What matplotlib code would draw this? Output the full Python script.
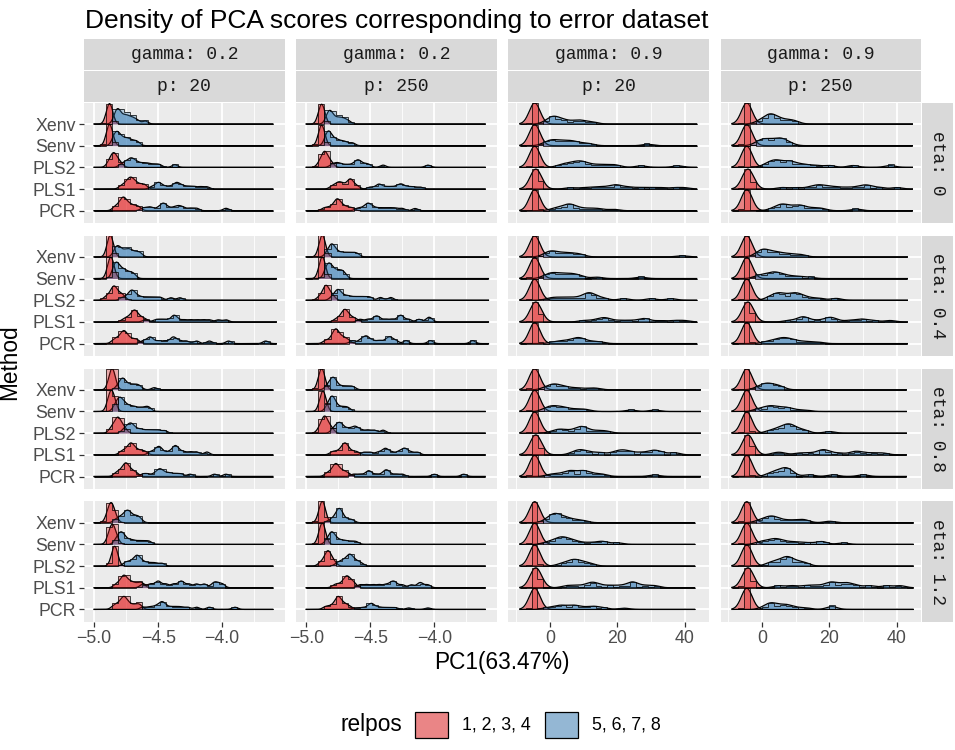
import math

import numpy as np
import matplotlib
matplotlib.use("Agg")
import matplotlib.pyplot as plt
from matplotlib.patches import Rectangle

plt.rcParams["font.family"] = ["Liberation Sans", "DejaVu Sans"]

# ---------------------------------------------------------------- data
METHODS = ["PCR", "PLS1", "PLS2", "Senv", "Xenv"]          # bottom -> top
GAMMA = ["0.2", "0.2", "0.9", "0.9"]
P = ["20", "250", "20", "250"]
ETA = ["0", "0.4", "0.8", "1.2"]
GROUPS = ["1, 2, 3, 4", "5, 6, 7, 8"]
X_TICKS = [[-5.0, -4.5, -4.0], [-5.0, -4.5, -4.0], [0, 20, 40], [0, 20, 40]]
X_TICKLABELS = [["\u22125.0", "\u22124.5", "\u22124.0"]] * 2 + [["0", "20", "40"]] * 2
X_MINOR = [[-4.75, -4.25, -3.75]] * 2 + [[-10, 10, 30]] * 2
X_LIM = [(-5.078, -3.513), (-5.078, -3.513), (-12.3, 47.1), (-12.3, 47.1)]
X_LO = [-5.0, -5.0, -8.9, -8.9]                           # panel data min per column
X_HI = [[-3.605, -3.603, 43.5, 44.6],                      # panel data max, rows = eta
        [-3.577, -3.577, 43.5, 43.1],
        [-3.605, -3.603, 44.6, 42.8],
        [-3.605, -3.603, 42.9, 44.8]]
BW = [0.022, 0.022, 1.6, 1.6]                              # density bandwidth per column
BW_HIST = [0.012, 0.012, 0.5, 0.5]

# method -> (PC1 scores relpos 1-4, PC1 scores relpos 5-8, ridge peak 1-4, ridge peak 5-8)
G02_P20_E0 = {
    "Xenv": ([-4.90, -4.89, -4.885, -4.88, -4.875, -4.87, -4.86],
             [-4.84, -4.83, -4.82, -4.815, -4.81, -4.80, -4.78, -4.76, -4.75, -4.73, -4.71, -4.69, -4.66, -4.60], 0.94, 0.71),
    "Senv": ([-4.90, -4.89, -4.885, -4.88, -4.875, -4.87, -4.86],
             [-4.85, -4.84, -4.83, -4.82, -4.81, -4.80, -4.78, -4.76, -4.74, -4.72, -4.69, -4.66], 0.98, 0.66),
    "PLS2": ([-4.89, -4.87, -4.86, -4.85, -4.845, -4.84, -4.83, -4.81, -4.79],
             [-4.79, -4.76, -4.74, -4.72, -4.71, -4.70, -4.68, -4.66, -4.63, -4.60, -4.57, -4.53, -4.49, -4.37], 0.68, 0.44),
    "PLS1": ([-4.79, -4.76, -4.74, -4.73, -4.72, -4.71, -4.70, -4.69, -4.67, -4.65, -4.62, -4.60],
             [-4.55, -4.51, -4.50, -4.49, -4.46, -4.42, -4.38, -4.36, -4.35, -4.33, -4.30, -4.26, -4.22, -4.17, -4.12], 0.55, 0.31),
    "PCR": ([-4.84, -4.81, -4.79, -4.78, -4.77, -4.765, -4.75, -4.73, -4.71, -4.68, -4.65],
            [-4.62, -4.58, -4.55, -4.50, -4.47, -4.46, -4.45, -4.42, -4.38, -4.35, -4.33, -4.30, -4.25, -4.20, -3.97], 0.63, 0.35),
}
G02_P20_E04 = {
    "Xenv": ([-4.89, -4.885, -4.88, -4.875, -4.87, -4.865, -4.855],
             [-4.84, -4.83, -4.82, -4.81, -4.80, -4.78, -4.76, -4.74, -4.73, -4.71, -4.69, -4.66, -4.64], 0.99, 0.52),
    "Senv": ([-4.89, -4.88, -4.875, -4.87, -4.865, -4.86, -4.85],
             [-4.85, -4.84, -4.83, -4.82, -4.81, -4.79, -4.77, -4.75, -4.72, -4.69], 0.99, 0.76),
    "PLS2": ([-4.91, -4.88, -4.86, -4.85, -4.845, -4.84, -4.83, -4.81, -4.79, -4.77],
             [-4.78, -4.74, -4.72, -4.71, -4.70, -4.69, -4.67, -4.64, -4.60, -4.56, -4.52, -4.48, -4.40, -4.33], 0.66, 0.47),
    "PLS1": ([-4.77, -4.74, -4.72, -4.70, -4.69, -4.685, -4.68, -4.67, -4.65, -4.63, -4.60],
             [-4.60, -4.52, -4.48, -4.44, -4.39, -4.38, -4.37, -4.35, -4.30, -4.25, -4.20, -4.15, -4.10, -4.03, -3.97], 0.55, 0.31),
    "PCR": ([-4.85, -4.82, -4.80, -4.78, -4.77, -4.765, -4.76, -4.74, -4.72, -4.69, -4.66],
            [-4.62, -4.58, -4.56, -4.55, -4.50, -4.45, -4.40, -4.38, -4.37, -4.33, -4.28, -4.20, -4.10, -3.95, -3.66], 0.60, 0.31),
}
G02_P20_E08 = {
    "Xenv": ([-4.88, -4.87, -4.865, -4.86, -4.855, -4.85, -4.84],
             [-4.82, -4.80, -4.79, -4.78, -4.775, -4.77, -4.76, -4.74, -4.72, -4.70, -4.68, -4.66, -4.64, -4.53], 0.98, 0.54),
    "Senv": ([-4.89, -4.88, -4.87, -4.865, -4.86, -4.85, -4.84],
             [-4.84, -4.82, -4.81, -4.80, -4.79, -4.78, -4.76, -4.74, -4.71, -4.68, -4.64, -4.60, -4.57], 0.98, 0.66),
    "PLS2": ([-4.87, -4.85, -4.83, -4.82, -4.815, -4.81, -4.80, -4.78, -4.76],
             [-4.77, -4.75, -4.73, -4.72, -4.71, -4.70, -4.68, -4.65, -4.62, -4.58, -4.54, -4.50, -4.45], 0.74, 0.47),
    "PLS1": ([-4.79, -4.76, -4.74, -4.72, -4.715, -4.71, -4.70, -4.68, -4.66, -4.63, -4.60],
             [-4.56, -4.52, -4.50, -4.49, -4.47, -4.42, -4.38, -4.37, -4.36, -4.34, -4.30, -4.25, -4.20, -4.12], 0.55, 0.43),
    "PCR": ([-4.83, -4.80, -4.78, -4.76, -4.755, -4.75, -4.74, -4.72, -4.70, -4.67],
            [-4.62, -4.58, -4.53, -4.50, -4.49, -4.48, -4.46, -4.43, -4.40, -4.36, -4.32, -4.25, -4.06, -3.97], 0.63, 0.36),
}
G02_P20_E12 = {
    "Xenv": ([-4.90, -4.885, -4.875, -4.87, -4.865, -4.86, -4.85, -4.83],
             [-4.83, -4.80, -4.78, -4.76, -4.75, -4.74, -4.73, -4.72, -4.70, -4.68, -4.66, -4.64], 0.93, 0.58),
    "Senv": ([-4.89, -4.875, -4.865, -4.86, -4.855, -4.85, -4.84, -4.82],
             [-4.83, -4.81, -4.80, -4.79, -4.78, -4.77, -4.75, -4.72, -4.69, -4.65, -4.61, -4.57], 0.93, 0.58),
    "PLS2": ([-4.86, -4.85, -4.845, -4.84, -4.84, -4.835, -4.83, -4.82],
             [-4.76, -4.73, -4.70, -4.68, -4.67, -4.66, -4.65, -4.63, -4.60, -4.56, -4.52, -4.47], 0.91, 0.50),
    "PLS1": ([-4.83, -4.80, -4.78, -4.77, -4.765, -4.76, -4.74, -4.72, -4.70, -4.67, -4.64, -4.62],
             [-4.62, -4.56, -4.51, -4.49, -4.44, -4.38, -4.33, -4.31, -4.26, -4.20, -4.14, -4.07, -4.04, -4.00], 0.58, 0.31),
    "PCR": ([-4.85, -4.82, -4.80, -4.78, -4.77, -4.765, -4.76, -4.74, -4.72, -4.69, -4.66, -4.64],
            [-4.62, -4.57, -4.53, -4.50, -4.48, -4.47, -4.46, -4.44, -4.40, -4.36, -4.32, -4.27, -4.20, -4.10, -3.90], 0.60, 0.36),
}
G02_P250_E0 = {
    "Xenv": ([-4.90, -4.89, -4.885, -4.88, -4.875, -4.87, -4.86],
             [-4.84, -4.83, -4.82, -4.815, -4.81, -4.80, -4.78, -4.76, -4.74, -4.72, -4.70, -4.67], 0.91, 0.63),
    "Senv": ([-4.90, -4.89, -4.885, -4.88, -4.875, -4.87, -4.86],
             [-4.85, -4.84, -4.83, -4.825, -4.82, -4.81, -4.79, -4.77, -4.75, -4.72, -4.69, -4.64], 0.94, 0.68),
    "PLS2": ([-4.90, -4.88, -4.865, -4.86, -4.855, -4.85, -4.84, -4.82, -4.80],
             [-4.80, -4.77, -4.75, -4.72, -4.68, -4.64, -4.61, -4.60, -4.59, -4.57, -4.54, -4.51, -4.40, -4.05], 0.74, 0.35),
    "PLS1": ([-4.80, -4.77, -4.75, -4.74, -4.72, -4.70, -4.67, -4.66, -4.655, -4.65, -4.63, -4.60],
             [-4.50, -4.45, -4.43, -4.42, -4.38, -4.34, -4.30, -4.27, -4.26, -4.24, -4.20, -4.16, -4.11], 0.47, 0.24),
    "PCR": ([-4.86, -4.82, -4.79, -4.77, -4.76, -4.755, -4.75, -4.73, -4.71, -4.68, -4.64],
            [-4.60, -4.56, -4.53, -4.52, -4.51, -4.49, -4.46, -4.42, -4.38, -4.34, -4.30, -4.25, -4.15], 0.55, 0.35),
}
G02_P250_E04 = {
    "Xenv": ([-4.895, -4.885, -4.88, -4.875, -4.87, -4.865, -4.855],
             [-4.84, -4.82, -4.81, -4.80, -4.795, -4.79, -4.77, -4.75, -4.72, -4.69, -4.66, -4.63, -4.60], 0.99, 0.60),
    "Senv": ([-4.895, -4.885, -4.88, -4.875, -4.87, -4.865, -4.855],
             [-4.85, -4.84, -4.83, -4.82, -4.81, -4.80, -4.78, -4.76, -4.74, -4.72, -4.70], 0.99, 0.72),
    "PLS2": ([-4.90, -4.87, -4.855, -4.85, -4.845, -4.84, -4.83, -4.81, -4.79],
             [-4.80, -4.77, -4.76, -4.75, -4.74, -4.72, -4.69, -4.66, -4.62, -4.58, -4.54, -4.50, -4.42, -4.34], 0.69, 0.50),
    "PLS1": ([-4.77, -4.74, -4.72, -4.71, -4.70, -4.695, -4.69, -4.68, -4.66, -4.64, -4.61],
             [-4.58, -4.52, -4.47, -4.45, -4.43, -4.38, -4.33, -4.28, -4.26, -4.25, -4.20, -4.12, -4.05, -4.03], 0.58, 0.31),
    "PCR": ([-4.85, -4.81, -4.79, -4.775, -4.77, -4.765, -4.76, -4.74, -4.72, -4.70, -4.67],
            [-4.64, -4.58, -4.55, -4.53, -4.52, -4.48, -4.43, -4.38, -4.35, -4.34, -4.30, -4.22, -4.03, -3.70], 0.68, 0.36),
}
G02_P250_E08 = {
    "Xenv": ([-4.90, -4.89, -4.885, -4.88, -4.875, -4.87, -4.86],
             [-4.84, -4.82, -4.81, -4.80, -4.79, -4.785, -4.78, -4.77, -4.75, -4.72, -4.69, -4.66, -4.63], 0.98, 0.58),
    "Senv": ([-4.89, -4.88, -4.875, -4.87, -4.865, -4.86, -4.85],
             [-4.84, -4.82, -4.81, -4.80, -4.795, -4.79, -4.78, -4.76, -4.73, -4.70, -4.67], 0.93, 0.71),
    "PLS2": ([-4.90, -4.88, -4.865, -4.86, -4.855, -4.85, -4.84, -4.82, -4.80],
             [-4.79, -4.77, -4.75, -4.74, -4.73, -4.71, -4.68, -4.65, -4.62, -4.61, -4.57, -4.52, -4.47, -4.40], 0.79, 0.50),
    "PLS1": ([-4.80, -4.77, -4.74, -4.72, -4.71, -4.70, -4.695, -4.69, -4.68, -4.66, -4.63, -4.60],
             [-4.55, -4.50, -4.44, -4.40, -4.38, -4.37, -4.33, -4.28, -4.25, -4.23, -4.22, -4.18, -4.13], 0.55, 0.31),
    "PCR": ([-4.84, -4.81, -4.79, -4.775, -4.77, -4.765, -4.76, -4.74, -4.72, -4.70, -4.67],
            [-4.63, -4.58, -4.53, -4.51, -4.50, -4.45, -4.40, -4.38, -4.37, -4.35, -4.30, -4.25, -4.00, -3.77], 0.60, 0.31),
}
G02_P250_E12 = {
    "Xenv": ([-4.90, -4.885, -4.88, -4.875, -4.87, -4.865, -4.855],
             [-4.82, -4.79, -4.77, -4.76, -4.75, -4.745, -4.74, -4.735, -4.73, -4.72, -4.70, -4.67, -4.64], 0.98, 0.66),
    "Senv": ([-4.90, -4.885, -4.88, -4.875, -4.87, -4.865, -4.855],
             [-4.84, -4.82, -4.81, -4.80, -4.795, -4.79, -4.77, -4.75, -4.72, -4.69, -4.65, -4.61], 0.98, 0.58),
    "PLS2": ([-4.89, -4.86, -4.845, -4.835, -4.83, -4.825, -4.82, -4.80, -4.78],
             [-4.76, -4.73, -4.71, -4.69, -4.675, -4.665, -4.66, -4.65, -4.64, -4.62, -4.60, -4.57], 0.71, 0.55),
    "PLS1": ([-4.78, -4.75, -4.72, -4.70, -4.69, -4.685, -4.68, -4.67, -4.65, -4.64, -4.62],
             [-4.58, -4.53, -4.48, -4.43, -4.38, -4.34, -4.32, -4.30, -4.25, -4.18, -4.12, -4.10, -4.05], 0.55, 0.31),
    "PCR": ([-4.85, -4.81, -4.78, -4.76, -4.755, -4.75, -4.745, -4.73, -4.71, -4.69, -4.66],
            [-4.62, -4.57, -4.53, -4.50, -4.495, -4.49, -4.48, -4.45, -4.42, -4.38, -4.34, -4.30, -4.20, -4.05], 0.60, 0.28),
}

RED_G09 = [-4.8, -4.7, -4.6, -4.5, -4.4, -4.3, -4.2]
RED_G09_PLS1 = [-4.8, -4.7, -4.6, -4.5, -4.4, -4.3, -3.5, -3.3, -3.1]

G09_P20_E0 = {
    "Xenv": (RED_G09, [-1, 0, 0.5, 1, 1.5, 2, 3, 4, 5, 7, 8.5, 9, 11, 13], 0.97, 0.36),
    "Senv": (RED_G09, [-1.5, -0.5, 0.5, 1, 2, 3, 4, 5, 6, 7, 8, 10, 12, 29], 0.97, 0.28),
    "PLS2": (RED_G09, [3, 4.5, 6, 7, 8, 9, 9.5, 10.5, 12, 14, 16, 18, 20, 27, 38], 0.97, 0.30),
    "PLS1": (RED_G09_PLS1, [6, 10, 13, 15, 17, 19, 19.5, 20, 22, 24, 27, 30, 33, 37, 40], 0.92, 0.20),
    "PCR": (RED_G09, [1, 2.5, 4, 5, 5.5, 6, 6.5, 7.5, 9, 11, 13, 15, 19], 0.97, 0.31),
}
G09_P20_E04 = {
    "Xenv": (RED_G09, [-1.5, -0.5, 0, 0.5, 1, 2, 3, 4, 5, 6, 7, 8.5, 9.5, 39], 0.97, 0.28),
    "Senv": (RED_G09, [-1.5, -0.5, 0.5, 1, 2, 3, 4, 5, 6, 7, 8, 9.5, 14, 27], 0.97, 0.28),
    "PLS2": (RED_G09, [0, 2, 4, 6, 8, 10, 11, 11.5, 12, 12.5, 14, 16, 22, 30, 36], 0.97, 0.35),
    "PLS1": (RED_G09_PLS1, [10, 13, 15, 16, 16.5, 18, 21, 24, 27, 28, 29, 33, 37, 40], 0.92, 0.20),
    "PCR": (RED_G09, [1, 3, 4.5, 6, 7, 8, 8.5, 9, 9.5, 11, 13, 15], 0.97, 0.28),
}
G09_P20_E08 = {
    "Xenv": (RED_G09, [-1.5, -0.5, 0.5, 1, 1.5, 2, 3, 4, 5, 7, 9, 12, 14], 0.97, 0.27),
    "Senv": (RED_G09, [-1.5, -0.5, 0.5, 1, 2, 3, 4, 5, 7, 9, 11, 24, 31], 0.97, 0.27),
    "PLS2": (RED_G09, [1, 2.5, 3.5, 5, 7, 8.5, 9, 9.5, 10, 11, 13, 15, 17], 0.97, 0.31),
    "PLS1": (RED_G09_PLS1, [7, 9, 9.5, 12, 15, 19, 21, 22, 24, 27, 30, 31, 33, 37], 0.92, 0.24),
    "PCR": (RED_G09, [0, 2, 4, 5.5, 6, 6.5, 8, 9.5, 10, 10.5, 12, 14, 16, 31], 0.97, 0.28),
}
G09_P20_E12 = {
    "Xenv": (RED_G09, [-1, 0, 1, 1.5, 1.5, 2, 3, 4, 5, 6, 8, 10], 0.97, 0.43),
    "Senv": (RED_G09, [-1, 1, 2, 3, 3.5, 4, 5, 6, 7, 9, 12, 15, 16, 20], 0.97, 0.35),
    "PLS2": (RED_G09, [3, 4.5, 5.5, 6.5, 7, 7.5, 8, 9, 10, 11, 12.5], 0.97, 0.31),
    "PLS1": (RED_G09_PLS1, [5, 8, 11, 12.5, 13, 15, 18, 21, 24, 24.5, 25, 28, 31], 0.92, 0.27),
    "PCR": (RED_G09, [-1, 1, 2.5, 3.5, 4, 6, 7, 7.5, 9, 11, 13, 13.5, 16, 22], 0.97, 0.20),
}
G09_P250_E0 = {
    "Xenv": (RED_G09, [-1, 0.5, 1.5, 2, 2.5, 3, 3.5, 4.5, 5.5, 7, 8.5, 10], 0.97, 0.47),
    "Senv": (RED_G09, [-1.5, -0.5, 0.5, 1, 2, 3, 4, 5, 5.5, 6, 7, 8.5], 0.97, 0.36),
    "PLS2": (RED_G09, [1, 2.5, 3.5, 4, 5, 6, 7.5, 8.5, 9, 11, 13, 16, 20, 27, 38], 0.97, 0.35),
    "PLS1": (RED_G09_PLS1, [6, 10, 14, 16, 17, 18, 20, 22, 25, 28, 30, 31, 32, 35, 40], 0.92, 0.20),
    "PCR": (RED_G09, [3, 5, 5.5, 6, 7, 8, 9.5, 10.5, 11.5, 12, 14, 16, 18, 28], 0.97, 0.31),
}
G09_P250_E04 = {
    "Xenv": (RED_G09, [-1.5, -0.5, 0, 0.5, 1, 2, 3, 4, 5, 6.5, 8, 10, 12], 0.97, 0.36),
    "Senv": (RED_G09, [-1.5, -0.5, 1, 2, 3, 3.5, 4, 5, 6, 7, 9, 11, 14], 0.97, 0.31),
    "PLS2": (RED_G09, [2, 3.5, 4.5, 5, 6, 7, 8.5, 9.5, 10, 11, 12, 14, 17, 22], 0.97, 0.35),
    "PLS1": (RED_G09_PLS1, [8, 11, 12, 12.5, 13, 16, 19, 20, 20.5, 22, 26, 29, 30, 33, 38], 0.92, 0.24),
    "PCR": (RED_G09, [1, 3, 4, 5, 6, 6.5, 7, 8, 9, 10, 12, 14, 17], 0.97, 0.28),
}
G09_P250_E08 = {
    "Xenv": (RED_G09, [-1.5, -0.5, 0.5, 1, 1.5, 2, 2.5, 3.5, 4.5, 5, 6], 0.97, 0.31),
    "Senv": (RED_G09, [-1.5, -0.5, 1, 2, 2.5, 3, 4, 5, 6.5, 7, 8, 10, 13], 0.97, 0.27),
    "PLS2": (RED_G09, [2, 4, 5, 6, 7, 7.5, 8, 8.5, 9, 10, 11.5, 13, 20], 0.97, 0.43),
    "PLS1": (RED_G09_PLS1, [4, 6, 11, 14, 17, 18, 18.5, 20, 23, 27, 28, 30, 33, 36], 0.92, 0.24),
    "PCR": (RED_G09, [2, 3.5, 4.5, 5.5, 6.5, 7, 7.5, 8, 9, 14, 21, 30], 0.97, 0.41),
}
G09_P250_E12 = {
    "Xenv": (RED_G09, [-1, 0.5, 1.5, 2.5, 3, 3.5, 4.5, 6, 8, 10, 12, 13, 20], 0.97, 0.31),
    "Senv": (RED_G09, [-1, 0.5, 2, 3, 4, 4.5, 5.5, 7, 9, 11, 14, 17.5, 18, 24], 0.97, 0.27),
    "PLS2": (RED_G09, [2, 3.5, 5, 6, 7, 7.5, 8, 8.5, 10, 11.5, 13], 0.97, 0.44),
    "PLS1": (RED_G09_PLS1, [5, 9, 13, 16, 19, 20.5, 21, 23, 25, 25.5, 28, 32, 37, 41], 0.92, 0.27),
    "PCR": (RED_G09, [0.5, 2, 2.5, 3, 3.5, 5, 6.5, 7, 8, 10, 13, 20.5, 21], 0.97, 0.31),
}

PANELS = [[G02_P20_E0, G02_P250_E0, G09_P20_E0, G09_P250_E0],
          [G02_P20_E04, G02_P250_E04, G09_P20_E04, G09_P250_E04],
          [G02_P20_E08, G02_P250_E08, G09_P20_E08, G09_P250_E08],
          [G02_P20_E12, G02_P250_E12, G09_P20_E12, G09_P250_E12]]

# ---------------------------------------------------------------- style / layout (pixels)
FILL = ["#E41A1C", "#377EB8"]
W, H = 955, 750
COL_LEFT = [84.2, 296.3, 508.4, 720.5]
ROW_TOP = [102.7, 235.6, 368.5, 501.4]
PW, PH = 200.3, 120.6
Y_LIM = (0.419, 5.983)
TICK_FS = 12.8
STRIP_FS = 13
MONO = ["Liberation Mono", "DejaVu Sans Mono"]

erf = np.vectorize(math.erf)


def kde(x, s, bw):
    s = np.asarray(s, float)[:, None]
    return np.exp(-0.5 * ((x[None, :] - s) / bw) ** 2).sum(0)


def binned(edges, s, bw):
    s = np.asarray(s, float)[:, None]
    cdf = 0.5 * (1 + erf((edges[None, :] - s) / (bw * math.sqrt(2))))
    return np.diff(cdf, axis=1).sum(0)


def draw_panel(ax, data, lo, hi, bw, bwh):
    x = np.linspace(lo, hi, 700)
    edges = np.linspace(lo, hi, 31)
    order = list(reversed(range(len(METHODS))))          # top ridge drawn first
    for i in order:
        red, blue, hr, hb = data[METHODS[i]]
        y0 = i + 1
        for s, pk, c in [(red, hr, FILL[0]), (blue, hb, FILL[1])]:
            d = kde(x, s, bw)
            top = y0 + d / d.max() * pk
            ax.fill_between(x, y0, top, color=c, alpha=0.5, lw=0, zorder=3)
            ax.plot(x, top, color="black", lw=0.9, zorder=4)
    for i in order:
        red, blue, hr, hb = data[METHODS[i]]
        y0 = i + 1
        for s, pk, c in [(red, hr, FILL[0]), (blue, hb, FILL[1])]:
            h = binned(edges, s, bwh)
            h = h / h.max() * pk
            vals = np.where(h > 0.01, y0 + h, y0)
            ax.stairs(vals, edges, baseline=y0, fill=True, color=c, alpha=0.3, lw=0, zorder=5)
            ax.stairs(vals, edges, baseline=y0, color="black", lw=0.6, alpha=0.85, zorder=6)


fig = plt.figure(figsize=(W / 100, H / 100), dpi=100)
over = fig.add_axes([0, 0, 1, 1])
over.set_xlim(0, W); over.set_ylim(H, 0); over.axis("off")

for r in range(4):
    for c in range(4):
        ax = fig.add_axes([COL_LEFT[c] / W, 1 - (ROW_TOP[r] + PH) / H, PW / W, PH / H])
        ax.set_facecolor("#EBEBEB")
        for sp in ax.spines.values():
            sp.set_visible(False)
        ax.set_xlim(*X_LIM[c]); ax.set_ylim(*Y_LIM)
        ax.set_xticks(X_TICKS[c]); ax.set_xticks(X_MINOR[c], minor=True)
        ax.set_yticks(range(1, 6))
        ax.grid(which="major", color="white", lw=1.3)
        ax.grid(which="minor", axis="x", color="white", lw=0.6)
        ax.set_axisbelow(True)
        ax.tick_params(which="minor", length=0)
        ax.tick_params(which="major", length=3.6, width=0.9, color="#333333",
                       labelsize=TICK_FS, labelcolor="#4D4D4D", pad=2.2)
        if c == 0:
            ax.set_yticklabels(METHODS)
        else:
            ax.tick_params(axis="y", length=0, labelleft=False)
        if r == 3:
            ax.set_xticklabels(X_TICKLABELS[c])
        else:
            ax.tick_params(axis="x", length=0, labelbottom=False)
        draw_panel(ax, PANELS[r][c], X_LO[c], X_HI[r][c], BW[c], BW_HIST[c])

        if r == 0:
            for txt, y0 in [(f"gamma: {GAMMA[c]}", 39.3), (f"p: {P[c]}", 70.5)]:
                over.add_patch(Rectangle((COL_LEFT[c], y0), PW, 31.2, color="#D9D9D9", lw=0))
                over.text(COL_LEFT[c] + PW / 2, y0 + 15.6, txt, family=MONO, fontsize=STRIP_FS,
                          color="#1A1A1A", ha="center", va="center")
    over.add_patch(Rectangle((921.7, ROW_TOP[r]), 31.3, PH, color="#D9D9D9", lw=0))
    over.text(937.3, ROW_TOP[r] + PH / 2, f"eta: {ETA[r]}", family=MONO, fontsize=STRIP_FS,
              color="#1A1A1A", ha="center", va="center", rotation=-90)

over.text(85, 28.3, "Density of PCA scores corresponding to error dataset", fontsize=19,
          ha="left", va="baseline", color="black")
over.text(502, 663, "PC1(63.47%)", fontsize=16.3, ha="center", va="center")
over.text(10, 362, "Method", fontsize=16.3, ha="center", va="center", rotation=90)

# legend
over.text(340, 725, "relpos", fontsize=16.3, ha="left", va="center")
for kx, tx, c, lab in [(415, 462, FILL[0], GROUPS[0]), (545, 592, FILL[1], GROUPS[1])]:
    over.add_patch(Rectangle((kx, 712), 33, 26, facecolor="#F2F2F2", lw=0))
    over.add_patch(Rectangle((kx, 712), 33, 26, facecolor=c, alpha=0.5, lw=0))
    over.add_patch(Rectangle((kx, 712), 33, 26, fill=False, edgecolor="black", lw=0.9))
    over.text(tx, 725, lab, fontsize=TICK_FS, ha="left", va="center")

fig.savefig("out.png", dpi=100)
